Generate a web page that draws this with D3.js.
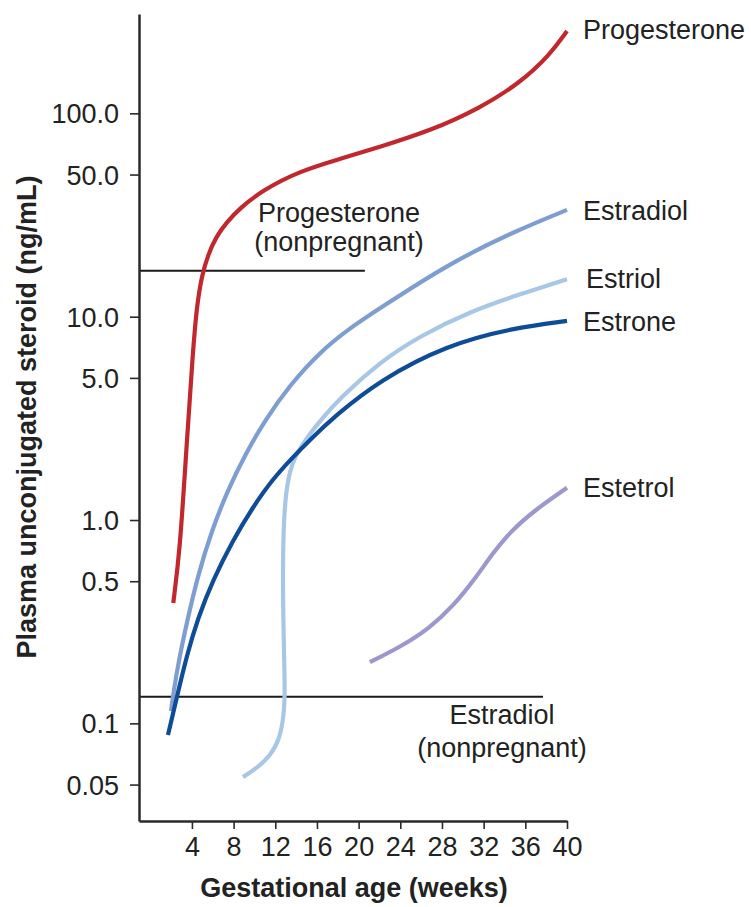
<!DOCTYPE html>
<html>
<head>
<meta charset="utf-8">
<script src="https://cdn.jsdelivr.net/npm/d3@7"></script>
<style>
  body { margin: 0; background: #fff; }
  svg { display: block; }
  .tick text { font-family: "Liberation Sans", Arial, sans-serif; font-size: 27px; fill: #222; }
  .lbl { font-family: "Liberation Sans", Arial, sans-serif; font-size: 27px; fill: #222; }
  .title { font-family: "Liberation Sans", Arial, sans-serif; font-size: 27px; font-weight: bold; fill: #222; }
</style>
</head>
<body>
<div id="chart"></div>
<script>
// weeks of gestation vs plasma unconjugated steroid (ng/mL)
var progesterone_wk  = [2.21, 2.85, 3.43, 4.10, 4.48, 4.96, 5.54, 6.31, 7.36, 8.61, 10.82, 14.37, 18.21, 22.04, 26.84, 31.64, 35.48, 38.36, 40.0];
var progesterone_val = [0.391, 0.712, 2.09, 6.86, 11.4, 16.0, 20.1, 24.7, 29.2, 34.2, 42.0, 52.1, 59.7, 68.4, 81.9, 106, 141, 194, 254];

var estradiol_wk  = [1.99, 2.27, 2.75, 3.52, 4.58, 5.92, 7.46, 9.09, 11.01, 13.41, 16.29, 19.17, 22.04, 28.47, 34.81, 40.0];
var estradiol_val = [0.115, 0.146, 0.205, 0.315, 0.536, 0.893, 1.41, 2.09, 3.10, 4.62, 6.71, 8.80, 11.0, 18.0, 26.1, 33.5];

var estriol_wk  = [8.90, 10.24, 11.58, 12.45, 12.83, 12.93, 12.83, 12.74, 12.74, 12.83, 13.02, 13.41, 13.98, 14.94, 16.29, 18.21, 22.04, 25.88, 30.68, 35.48, 40.0];
var estriol_val = [0.0544, 0.0603, 0.0698, 0.0847, 0.110, 0.146, 0.229, 0.404, 0.673, 1.00, 1.36, 1.76, 2.09, 2.50, 3.07, 3.98, 5.99, 8.04, 10.6, 12.9, 15.3];

var estrone_wk  = [1.70, 2.56, 3.52, 4.58, 6.02, 7.94, 9.86, 11.68, 13.41, 15.33, 17.73, 22.04, 28.47, 34.81, 40.0];
var estrone_val = [0.0876, 0.135, 0.217, 0.330, 0.507, 0.797, 1.16, 1.57, 1.97, 2.48, 3.25, 4.88, 7.26, 8.80, 9.53];

var estetrol_wk  = [21.08, 23.96, 26.84, 29.24, 31.16, 32.89, 34.52, 36.92, 40.0];
var estetrol_val = [0.200, 0.237, 0.294, 0.386, 0.513, 0.688, 0.873, 1.12, 1.44];

// nonpregnant reference levels: [value, end week]
var progesterone_np = [16.8, 20.6];
var estradiol_np = [0.135, 37.7];

var x_ticks = [4, 8, 12, 16, 20, 24, 28, 32, 36, 40];
var y_ticks = [100, 50, 10, 5, 1, 0.5, 0.1, 0.05];
var y_tick_labels = ["100.0", "50.0", "10.0", "5.0", "1.0", "0.5", "0.1", "0.05"];

var series = [
  {name: "Progesterone", wk: progesterone_wk, val: progesterone_val, color: "#c1272d", lx: 583, ly: 39},
  {name: "Estradiol", wk: estradiol_wk, val: estradiol_val, color: "#7e9ed2", lx: 583, ly: 220},
  {name: "Estriol", wk: estriol_wk, val: estriol_val, color: "#a8c6e6", lx: 586, ly: 288},
  {name: "Estrone", wk: estrone_wk, val: estrone_val, color: "#0f4c97", lx: 583, ly: 331},
  {name: "Estetrol", wk: estetrol_wk, val: estetrol_val, color: "#9c98cf", lx: 583, ly: 497}
];

var width = 751, height = 907;

var svg = d3.select("#chart").append("svg")
  .attr("width", width)
  .attr("height", height);

var x = d3.scaleLinear().domain([-1.08, 40]).range([139, 567]);
var y = d3.scaleLog().domain([0.0331, 308]).range([821, 14]);

// reference lines
svg.append("line")
  .attr("x1", x(-1.08)).attr("x2", x(progesterone_np[1]))
  .attr("y1", y(progesterone_np[0])).attr("y2", y(progesterone_np[0]))
  .attr("stroke", "#1a1a1a").attr("stroke-width", 2);
svg.append("line")
  .attr("x1", x(-1.08)).attr("x2", x(estradiol_np[1]))
  .attr("y1", y(estradiol_np[0])).attr("y2", y(estradiol_np[0]))
  .attr("stroke", "#1a1a1a").attr("stroke-width", 2);

var line = d3.line()
  .x(function(d){ return x(d[0]); })
  .y(function(d){ return y(d[1]); })
  .curve(d3.curveBasis);

series.forEach(function(s){
  var pts = s.wk.map(function(w, i){ return [w, s.val[i]]; });
  svg.append("path")
    .attr("d", line(pts))
    .attr("fill", "none")
    .attr("stroke", s.color)
    .attr("stroke-width", 4.2)
    .attr("stroke-linecap", "butt");
  svg.append("text")
    .attr("class", "lbl")
    .attr("x", s.lx)
    .attr("y", s.ly)
    .text(s.name);
});

// axes
var yAxis = d3.axisLeft(y)
  .tickValues(y_ticks)
  .tickFormat(function(d, i){ return y_tick_labels[i]; })
  .tickSize(9)
  .tickSizeOuter(0)
  .tickPadding(11);
var gy = svg.append("g").attr("transform", "translate(139,0)").call(yAxis);

var xAxis = d3.axisBottom(x)
  .tickValues(x_ticks)
  .tickSize(8)
  .tickSizeOuter(0)
  .tickPadding(8);
var gx = svg.append("g").attr("transform", "translate(0,821)").call(xAxis);

svg.selectAll(".domain").attr("stroke", "#2a2a2a").attr("stroke-width", 2.5);
svg.selectAll(".tick line").attr("stroke", "#2a2a2a").attr("stroke-width", 1.6);
gy.selectAll(".tick text").attr("dy", "0.35em");

// nonpregnant labels
var np1 = svg.append("text").attr("class", "lbl").attr("text-anchor", "middle");
np1.append("tspan").attr("x", 339).attr("y", 222).text("Progesterone");
np1.append("tspan").attr("x", 339).attr("y", 251).text("(nonpregnant)");

var np2 = svg.append("text").attr("class", "lbl").attr("text-anchor", "middle");
np2.append("tspan").attr("x", 502).attr("y", 724).text("Estradiol");
np2.append("tspan").attr("x", 502).attr("y", 757).text("(nonpregnant)");

// axis titles
svg.append("text")
  .attr("class", "title")
  .attr("text-anchor", "middle")
  .attr("x", 354)
  .attr("y", 897)
  .text("Gestational age (weeks)");

svg.append("text")
  .attr("class", "title")
  .attr("text-anchor", "middle")
  .attr("transform", "translate(36,417) rotate(-90)")
  .text("Plasma unconjugated steroid (ng/mL)");
</script>
</body>
</html>
